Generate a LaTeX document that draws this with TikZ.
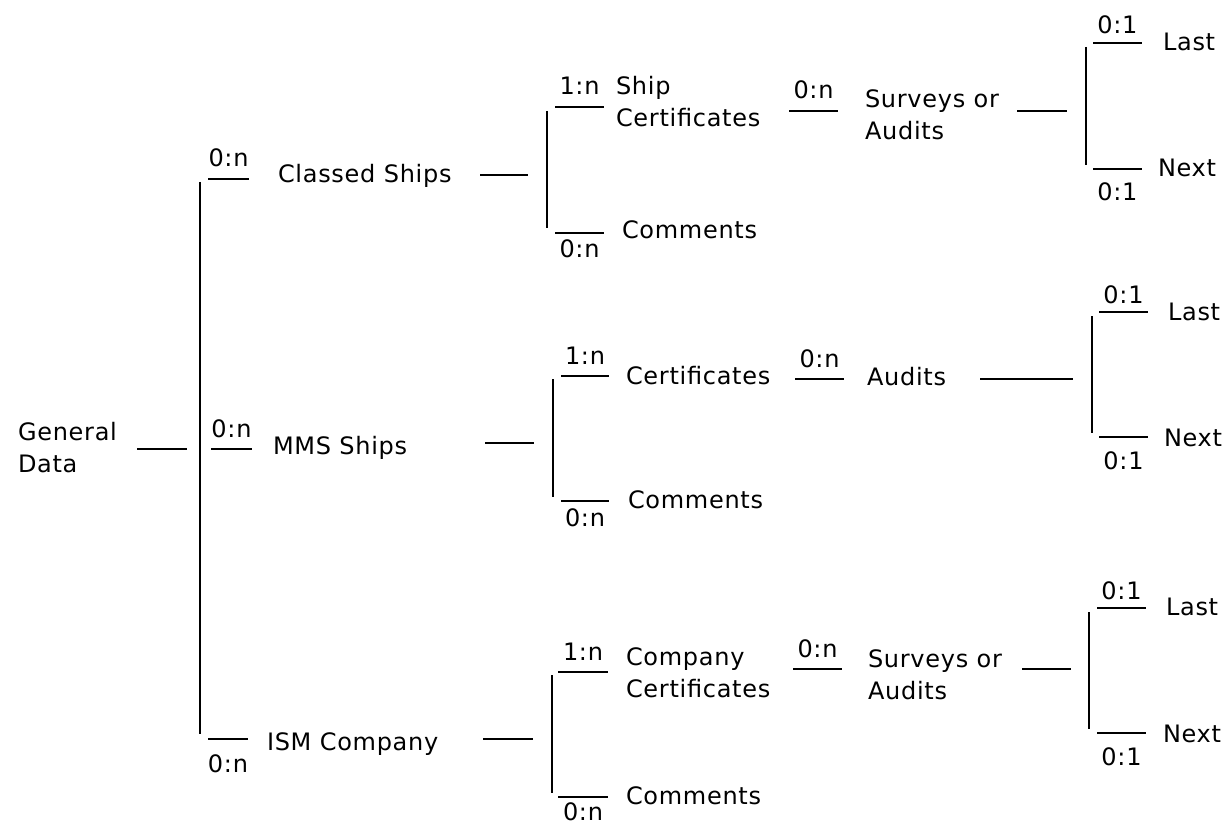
\documentclass[tikz,border=0pt]{standalone}
\usepackage{fontspec}
\setmainfont{DejaVu Sans}[LetterSpace=3]
\usepackage{tikz}

\begin{document}
\begin{tikzpicture}[x=1pt, y=-1pt, line width=2pt,
    item/.style={anchor=base west, inner sep=0pt, align=left, font=\fontsize{24}{32}\selectfont},
    card/.style={anchor=base, inner sep=0pt, font=\fontsize{24}{32}\selectfont},
    card up/.style={card, yshift=12pt},
    card down/.style={card, yshift=-25pt},
    one up/.style={card, yshift=9pt},
    one down/.style={card, yshift=-32pt}]

  \useasboundingbox (0,0) rectangle (1223,826);

  % Nodes (left to right; two-line texts sit on their last line)
  \node[item] (gd) at (17,472) {General\\Data};

  % Classed Ships branch
  \node[item] (cs) at (277,183) {Classed Ships};
  \node[item] (sc) at (615,127) {Ship\\Certificates};
  \node[item] (cm1) at (621,239) {Comments};
  \node[item] (sa1) at (864,140) {Surveys or\\Audits};
  \node[item] (last1) at (1162,51) {Last};
  \node[item] (next1) at (1157,177) {Next};

  % MMS Ships branch
  \node[item] (ms) at (272,454) {MMS Ships};
  \node[item] (ce2) at (625,384) {Certificates};
  \node[item] (cm2) at (627,508) {Comments};
  \node[item] (au2) at (866,385) {Audits};
  \node[item] (last2) at (1167,320) {Last};
  \node[item] (next2) at (1163,446) {Next};

  % ISM Company branch
  \node[item] (ism) at (266,750) {ISM Company};
  \node[item] (cc3) at (625,697) {Company\\Certificates};
  \node[item] (cm3) at (625,804) {Comments};
  \node[item] (sa3) at (867,699) {Surveys or\\Audits};
  \node[item] (last3) at (1165,615) {Last};
  \node[item] (next3) at (1162,742) {Next};

  % Line ends
  \coordinate (g1) at (137,449);   \coordinate (g2) at (187,449);
  \coordinate (tr1) at (200,182);  \coordinate (tr2) at (200,734);

  \coordinate (ca1) at (208,179);  \coordinate (ca2) at (249,179);
  \coordinate (cb1) at (480,175);  \coordinate (cb2) at (528,175);
  \coordinate (cv1) at (547,111);  \coordinate (cv2) at (547,228);
  \coordinate (cc1) at (555,107);  \coordinate (cc2) at (604,107);
  \coordinate (cd1) at (555,233);  \coordinate (cd2) at (604,233);
  \coordinate (ce1) at (789,111);  \coordinate (ce2) at (838,111);
  \coordinate (cf1) at (1017,111); \coordinate (cf2) at (1067,111);
  \coordinate (cw1) at (1086,47);  \coordinate (cw2) at (1086,165);
  \coordinate (cg1) at (1093,43);  \coordinate (cg2) at (1142,43);
  \coordinate (ch1) at (1093,169); \coordinate (ch2) at (1142,169);

  \coordinate (ma1) at (211,449);  \coordinate (ma2) at (252,449);
  \coordinate (mb1) at (485,443);  \coordinate (mb2) at (534,443);
  \coordinate (mv1) at (553,379);  \coordinate (mv2) at (553,497);
  \coordinate (mc1) at (561,376);  \coordinate (mc2) at (609,376);
  \coordinate (md1) at (561,501);  \coordinate (md2) at (609,501);
  \coordinate (me1) at (795,379);  \coordinate (me2) at (844,379);
  \coordinate (mf1) at (980,379);  \coordinate (mf2) at (1073,379);
  \coordinate (mw1) at (1092,316); \coordinate (mw2) at (1092,433);
  \coordinate (mg1) at (1099,312); \coordinate (mg2) at (1148,312);
  \coordinate (mh1) at (1099,437); \coordinate (mh2) at (1148,437);

  \coordinate (ia1) at (208,739);  \coordinate (ia2) at (248,739);
  \coordinate (ib1) at (483,739);  \coordinate (ib2) at (533,739);
  \coordinate (iv1) at (552,675);  \coordinate (iv2) at (552,793);
  \coordinate (ic1) at (558,672);  \coordinate (ic2) at (608,672);
  \coordinate (id1) at (558,797);  \coordinate (id2) at (608,797);
  \coordinate (ie1) at (793,669);  \coordinate (ie2) at (842,669);
  \coordinate (if1) at (1022,669); \coordinate (if2) at (1071,669);
  \coordinate (iw1) at (1089,612); \coordinate (iw2) at (1089,729);
  \coordinate (ig1) at (1097,608); \coordinate (ig2) at (1146,608);
  \coordinate (ih1) at (1097,733); \coordinate (ih2) at (1146,733);

  % Lines with cardinalities
  \path
    (g1) edge (g2)
    (tr1) edge (tr2)
    (ca1) edge node[card up] {0:n} (ca2)
    (cb1) edge (cb2)
    (cv1) edge (cv2)
    (cc1) edge node[card up] {1:n} (cc2)
    (cd1) edge node[card down] {0:n} (cd2)
    (ce1) edge node[card up] {0:n} (ce2)
    (cf1) edge (cf2)
    (cw1) edge (cw2)
    (cg1) edge node[one up] {0:1} (cg2)
    (ch1) edge node[one down] {0:1} (ch2);

  \path
    (ma1) edge node[card up] {0:n} (ma2)
    (mb1) edge (mb2)
    (mv1) edge (mv2)
    (mc1) edge node[card up] {1:n} (mc2)
    (md1) edge node[card down] {0:n} (md2)
    (me1) edge node[card up] {0:n} (me2)
    (mf1) edge (mf2)
    (mw1) edge (mw2)
    (mg1) edge node[one up] {0:1} (mg2)
    (mh1) edge node[one down] {0:1} (mh2);

  \path
    (ia1) edge node[card down, yshift=-8pt] {0:n} (ia2)
    (ib1) edge (ib2)
    (iv1) edge (iv2)
    (ic1) edge node[card up] {1:n} (ic2)
    (id1) edge node[card down, yshift=2pt] {0:n} (id2)
    (ie1) edge node[card up] {0:n} (ie2)
    (if1) edge (if2)
    (iw1) edge (iw2)
    (ig1) edge node[one up] {0:1} (ig2)
    (ih1) edge node[one down] {0:1} (ih2);
\end{tikzpicture}
\end{document}
